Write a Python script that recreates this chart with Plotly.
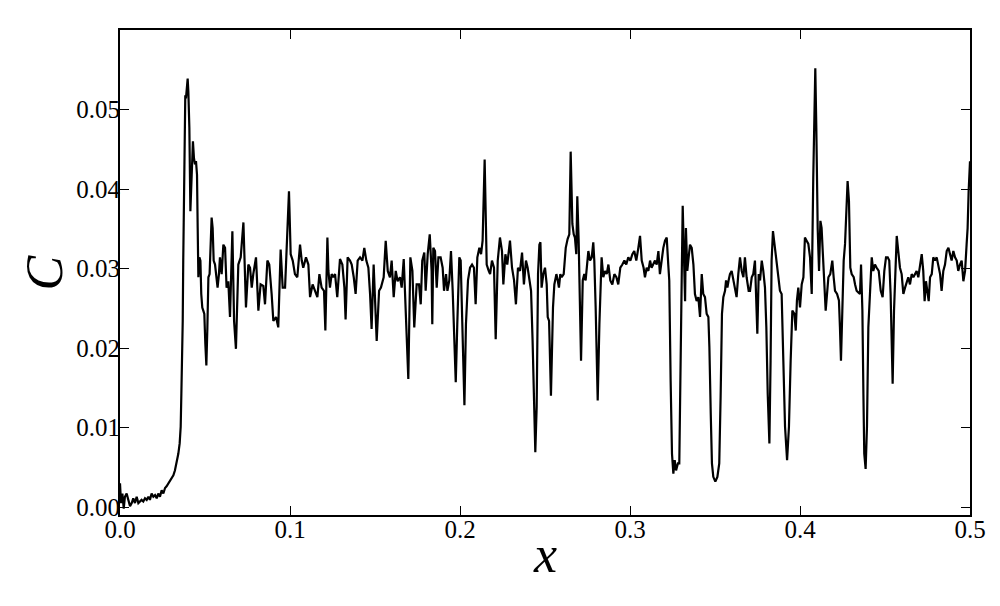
import plotly.graph_objects as go

# Concentration profile C(x)
x_pos = [
    0.0000, 0.0006, 0.0014, 0.0022, 0.0029, 0.0039, 0.0049, 0.0059, 0.0069, 0.0078,
    0.0088, 0.0098, 0.0108, 0.0118, 0.0127, 0.0137, 0.0147, 0.0157, 0.0167, 0.0176,
    0.0186, 0.0196, 0.0206, 0.0216, 0.0225, 0.0235, 0.0245, 0.0255, 0.0265, 0.0274,
    0.0284, 0.0294, 0.0304, 0.0314, 0.0323, 0.0333, 0.0343, 0.0351, 0.0357, 0.0361,
    0.0365, 0.0369, 0.0372, 0.0376, 0.0380, 0.0384, 0.0388, 0.0392, 0.0398, 0.0402,
    0.0408, 0.0414, 0.0420, 0.0425, 0.0429, 0.0435, 0.0441, 0.0447, 0.0453, 0.0457,
    0.0461, 0.0467, 0.0473, 0.0478, 0.0484, 0.0490, 0.0496, 0.0502, 0.0508, 0.0514,
    0.0520, 0.0527, 0.0533, 0.0539, 0.0545, 0.0551, 0.0559, 0.0567, 0.0574, 0.0582,
    0.0588, 0.0598, 0.0608, 0.0618, 0.0627, 0.0637, 0.0647, 0.0661, 0.0671, 0.0682,
    0.0696, 0.0710, 0.0726, 0.0741, 0.0755, 0.0765, 0.0775, 0.0784, 0.0800, 0.0814,
    0.0827, 0.0843, 0.0853, 0.0867, 0.0878, 0.0892, 0.0902, 0.0918, 0.0931, 0.0945,
    0.0957, 0.0971, 0.0984, 0.0994, 0.1004, 0.1016, 0.1029, 0.1043, 0.1059, 0.1069,
    0.1078, 0.1094, 0.1108, 0.1118, 0.1133, 0.1147, 0.1161, 0.1173, 0.1186, 0.1200,
    0.1208, 0.1220, 0.1226, 0.1235, 0.1245, 0.1255, 0.1265, 0.1278, 0.1294, 0.1308,
    0.1320, 0.1327, 0.1339, 0.1353, 0.1363, 0.1375, 0.1386, 0.1398, 0.1412, 0.1426,
    0.1437, 0.1449, 0.1461, 0.1471, 0.1480, 0.1492, 0.1500, 0.1510, 0.1524, 0.1535,
    0.1551, 0.1563, 0.1575, 0.1588, 0.1598, 0.1610, 0.1622, 0.1633, 0.1647, 0.1657,
    0.1669, 0.1680, 0.1696, 0.1708, 0.1720, 0.1731, 0.1745, 0.1759, 0.1769, 0.1778,
    0.1790, 0.1798, 0.1810, 0.1822, 0.1833, 0.1837, 0.1843, 0.1853, 0.1863, 0.1873,
    0.1886, 0.1898, 0.1906, 0.1918, 0.1926, 0.1937, 0.1947, 0.1957, 0.1965, 0.1975,
    0.1984, 0.1996, 0.2004, 0.2014, 0.2026, 0.2035, 0.2047, 0.2059, 0.2071, 0.2082,
    0.2092, 0.2102, 0.2114, 0.2124, 0.2133, 0.2145, 0.2157, 0.2169, 0.2177, 0.2188,
    0.2200, 0.2210, 0.2222, 0.2235, 0.2247, 0.2255, 0.2267, 0.2278, 0.2286, 0.2294,
    0.2306, 0.2318, 0.2329, 0.2341, 0.2353, 0.2365, 0.2376, 0.2388, 0.2398, 0.2408,
    0.2418, 0.2427, 0.2437, 0.2443, 0.2451, 0.2459, 0.2467, 0.2473, 0.2480, 0.2490,
    0.2500, 0.2510, 0.2516, 0.2524, 0.2535, 0.2547, 0.2555, 0.2567, 0.2575, 0.2582,
    0.2590, 0.2598, 0.2610, 0.2622, 0.2633, 0.2643, 0.2651, 0.2661, 0.2669, 0.2676,
    0.2684, 0.2690, 0.2698, 0.2706, 0.2712, 0.2722, 0.2731, 0.2739, 0.2747, 0.2755,
    0.2765, 0.2775, 0.2784, 0.2790, 0.2798, 0.2804, 0.2810, 0.2820, 0.2827, 0.2833,
    0.2843, 0.2853, 0.2863, 0.2873, 0.2884, 0.2896, 0.2908, 0.2920, 0.2931, 0.2943,
    0.2955, 0.2967, 0.2978, 0.2990, 0.3002, 0.3014, 0.3025, 0.3037, 0.3049, 0.3059,
    0.3069, 0.3080, 0.3088, 0.3098, 0.3108, 0.3118, 0.3127, 0.3137, 0.3147, 0.3157,
    0.3167, 0.3176, 0.3186, 0.3196, 0.3206, 0.3216, 0.3225, 0.3231, 0.3239, 0.3247,
    0.3255, 0.3263, 0.3271, 0.3282, 0.3290, 0.3298, 0.3304, 0.3310, 0.3318, 0.3324,
    0.3329, 0.3337, 0.3345, 0.3353, 0.3363, 0.3373, 0.3382, 0.3392, 0.3402, 0.3412,
    0.3422, 0.3431, 0.3441, 0.3451, 0.3461, 0.3467, 0.3475, 0.3482, 0.3490, 0.3502,
    0.3514, 0.3525, 0.3533, 0.3541, 0.3549, 0.3559, 0.3565, 0.3573, 0.3580, 0.3588,
    0.3598, 0.3608, 0.3618, 0.3627, 0.3637, 0.3647, 0.3657, 0.3667, 0.3676, 0.3686,
    0.3698, 0.3706, 0.3716, 0.3725, 0.3735, 0.3741, 0.3749, 0.3757, 0.3765, 0.3775,
    0.3784, 0.3794, 0.3802, 0.3810, 0.3820, 0.3827, 0.3833, 0.3841, 0.3853, 0.3863,
    0.3873, 0.3882, 0.3892, 0.3902, 0.3912, 0.3924, 0.3935, 0.3945, 0.3955, 0.3967,
    0.3975, 0.3982, 0.3990, 0.4000, 0.4010, 0.4020, 0.4029, 0.4039, 0.4049, 0.4059,
    0.4069, 0.4078, 0.4086, 0.4090, 0.4096, 0.4104, 0.4112, 0.4120, 0.4127, 0.4135,
    0.4143, 0.4151, 0.4159, 0.4167, 0.4178, 0.4190, 0.4198, 0.4206, 0.4218, 0.4229,
    0.4235, 0.4241, 0.4249, 0.4257, 0.4265, 0.4273, 0.4280, 0.4288, 0.4296, 0.4304,
    0.4316, 0.4324, 0.4333, 0.4343, 0.4353, 0.4359, 0.4367, 0.4373, 0.4378, 0.4386,
    0.4394, 0.4402, 0.4412, 0.4422, 0.4431, 0.4441, 0.4451, 0.4463, 0.4475, 0.4486,
    0.4496, 0.4506, 0.4516, 0.4525, 0.4533, 0.4539, 0.4545, 0.4553, 0.4561, 0.4569,
    0.4578, 0.4588, 0.4598, 0.4608, 0.4618, 0.4627, 0.4637, 0.4647, 0.4657, 0.4667,
    0.4676, 0.4686, 0.4696, 0.4706, 0.4716, 0.4725, 0.4733, 0.4741, 0.4749, 0.4757,
    0.4765, 0.4775, 0.4784, 0.4794, 0.4804, 0.4814, 0.4824, 0.4833, 0.4843, 0.4853,
    0.4863, 0.4873, 0.4882, 0.4892, 0.4902, 0.4912, 0.4922, 0.4931, 0.4941, 0.4951,
    0.4961, 0.4971, 0.4980, 0.4986, 0.4992, 0.5000,
]
conc = [
    0.0030, 0.0005, 0.0017, -0.0002, 0.0013, 0.0017, 0.0009, 0.0001, 0.0005, 0.0011,
    0.0005, 0.0013, 0.0005, 0.0007, 0.0009, 0.0007, 0.0011, 0.0009, 0.0013, 0.0009,
    0.0017, 0.0013, 0.0015, 0.0011, 0.0017, 0.0013, 0.0021, 0.0017, 0.0024, 0.0026,
    0.0030, 0.0032, 0.0036, 0.0040, 0.0046, 0.0055, 0.0067, 0.0080, 0.0101, 0.0143,
    0.0184, 0.0234, 0.0310, 0.0393, 0.0477, 0.0518, 0.0514, 0.0531, 0.0539, 0.0523,
    0.0477, 0.0372, 0.0414, 0.0443, 0.0460, 0.0439, 0.0431, 0.0435, 0.0418, 0.0351,
    0.0289, 0.0314, 0.0310, 0.0268, 0.0251, 0.0247, 0.0243, 0.0205, 0.0178, 0.0226,
    0.0289, 0.0293, 0.0339, 0.0364, 0.0351, 0.0310, 0.0305, 0.0293, 0.0276, 0.0293,
    0.0314, 0.0293, 0.0330, 0.0326, 0.0276, 0.0284, 0.0239, 0.0347, 0.0234, 0.0199,
    0.0305, 0.0314, 0.0358, 0.0251, 0.0305, 0.0301, 0.0276, 0.0293, 0.0314, 0.0247,
    0.0280, 0.0278, 0.0255, 0.0310, 0.0305, 0.0268, 0.0234, 0.0239, 0.0226, 0.0324,
    0.0276, 0.0276, 0.0351, 0.0397, 0.0318, 0.0310, 0.0293, 0.0289, 0.0330, 0.0310,
    0.0301, 0.0314, 0.0305, 0.0264, 0.0280, 0.0272, 0.0264, 0.0293, 0.0276, 0.0272,
    0.0222, 0.0339, 0.0297, 0.0276, 0.0293, 0.0289, 0.0293, 0.0264, 0.0312, 0.0305,
    0.0276, 0.0236, 0.0314, 0.0310, 0.0305, 0.0289, 0.0268, 0.0310, 0.0314, 0.0310,
    0.0326, 0.0310, 0.0301, 0.0268, 0.0224, 0.0305, 0.0255, 0.0209, 0.0272, 0.0276,
    0.0289, 0.0335, 0.0297, 0.0289, 0.0310, 0.0264, 0.0297, 0.0284, 0.0289, 0.0276,
    0.0312, 0.0259, 0.0161, 0.0314, 0.0297, 0.0226, 0.0280, 0.0280, 0.0255, 0.0310,
    0.0320, 0.0272, 0.0318, 0.0343, 0.0297, 0.0230, 0.0326, 0.0322, 0.0276, 0.0314,
    0.0314, 0.0301, 0.0272, 0.0293, 0.0272, 0.0285, 0.0322, 0.0272, 0.0209, 0.0157,
    0.0230, 0.0314, 0.0310, 0.0230, 0.0128, 0.0230, 0.0285, 0.0301, 0.0305, 0.0301,
    0.0255, 0.0314, 0.0326, 0.0318, 0.0335, 0.0437, 0.0305, 0.0297, 0.0293, 0.0310,
    0.0301, 0.0211, 0.0310, 0.0339, 0.0322, 0.0280, 0.0318, 0.0305, 0.0318, 0.0335,
    0.0301, 0.0285, 0.0255, 0.0301, 0.0297, 0.0320, 0.0280, 0.0310, 0.0301, 0.0285,
    0.0272, 0.0209, 0.0097, 0.0069, 0.0126, 0.0293, 0.0330, 0.0333, 0.0276, 0.0293,
    0.0301, 0.0280, 0.0239, 0.0234, 0.0140, 0.0251, 0.0280, 0.0293, 0.0285, 0.0276,
    0.0293, 0.0289, 0.0293, 0.0326, 0.0337, 0.0343, 0.0447, 0.0356, 0.0343, 0.0339,
    0.0318, 0.0391, 0.0335, 0.0243, 0.0184, 0.0285, 0.0293, 0.0285, 0.0301, 0.0322,
    0.0310, 0.0314, 0.0333, 0.0310, 0.0251, 0.0188, 0.0134, 0.0230, 0.0272, 0.0314,
    0.0289, 0.0297, 0.0293, 0.0305, 0.0285, 0.0280, 0.0293, 0.0289, 0.0280, 0.0301,
    0.0305, 0.0310, 0.0305, 0.0314, 0.0310, 0.0318, 0.0322, 0.0310, 0.0326, 0.0341,
    0.0310, 0.0301, 0.0289, 0.0301, 0.0297, 0.0310, 0.0301, 0.0305, 0.0310, 0.0305,
    0.0322, 0.0293, 0.0310, 0.0326, 0.0335, 0.0339, 0.0305, 0.0285, 0.0159, 0.0067,
    0.0042, 0.0059, 0.0046, 0.0055, 0.0055, 0.0159, 0.0285, 0.0379, 0.0305, 0.0259,
    0.0351, 0.0297, 0.0314, 0.0330, 0.0326, 0.0305, 0.0268, 0.0259, 0.0264, 0.0239,
    0.0293, 0.0268, 0.0264, 0.0243, 0.0239, 0.0201, 0.0117, 0.0055, 0.0038, 0.0032,
    0.0038, 0.0055, 0.0138, 0.0243, 0.0264, 0.0272, 0.0285, 0.0276, 0.0285, 0.0293,
    0.0297, 0.0285, 0.0276, 0.0264, 0.0293, 0.0314, 0.0297, 0.0289, 0.0314, 0.0289,
    0.0272, 0.0272, 0.0289, 0.0293, 0.0310, 0.0268, 0.0218, 0.0293, 0.0285, 0.0310,
    0.0297, 0.0276, 0.0226, 0.0143, 0.0080, 0.0184, 0.0310, 0.0347, 0.0322, 0.0301,
    0.0289, 0.0272, 0.0268, 0.0184, 0.0101, 0.0059, 0.0101, 0.0184, 0.0247, 0.0243,
    0.0222, 0.0260, 0.0276, 0.0251, 0.0280, 0.0289, 0.0339, 0.0335, 0.0331, 0.0314,
    0.0268, 0.0414, 0.0518, 0.0552, 0.0477, 0.0351, 0.0297, 0.0360, 0.0351, 0.0310,
    0.0268, 0.0247, 0.0268, 0.0289, 0.0293, 0.0310, 0.0289, 0.0272, 0.0268, 0.0260,
    0.0226, 0.0184, 0.0247, 0.0310, 0.0331, 0.0385, 0.0410, 0.0385, 0.0301, 0.0293,
    0.0289, 0.0280, 0.0272, 0.0270, 0.0268, 0.0305, 0.0247, 0.0142, 0.0067, 0.0048,
    0.0101, 0.0226, 0.0276, 0.0314, 0.0297, 0.0305, 0.0301, 0.0297, 0.0272, 0.0264,
    0.0297, 0.0314, 0.0314, 0.0310, 0.0268, 0.0205, 0.0155, 0.0247, 0.0310, 0.0341,
    0.0322, 0.0301, 0.0293, 0.0268, 0.0276, 0.0284, 0.0289, 0.0280, 0.0293, 0.0289,
    0.0293, 0.0297, 0.0289, 0.0301, 0.0318, 0.0297, 0.0259, 0.0284, 0.0268, 0.0259,
    0.0289, 0.0293, 0.0314, 0.0310, 0.0314, 0.0301, 0.0293, 0.0272, 0.0297, 0.0305,
    0.0322, 0.0326, 0.0318, 0.0310, 0.0322, 0.0314, 0.0310, 0.0297, 0.0305, 0.0310,
    0.0284, 0.0297, 0.0330, 0.0351, 0.0397, 0.0435,
]

x_ticks = [0.0, 0.1, 0.2, 0.3, 0.4, 0.5]
x_tick_text = ["0.0", "0.1", "0.2", "0.3", "0.4", "0.5"]
y_ticks = [0.00, 0.01, 0.02, 0.03, 0.04, 0.05]
y_tick_text = ["0.00", "0.01", "0.02", "0.03", "0.04", "0.05"]

SERIF = "Liberation Serif, Times New Roman, serif"

fig = go.Figure()

fig.add_trace(go.Scatter(
    x=x_pos, y=conc,
    mode="lines",
    line=dict(color="black", width=2.2),
    showlegend=False,
    hoverinfo="skip",
))

axis_style = dict(
    showline=True, linecolor="black", linewidth=2, mirror="ticks",
    ticks="inside", ticklen=9, tickwidth=1, tickcolor="black",
    showgrid=False, zeroline=False,
    tickfont=dict(family=SERIF, size=25, color="black"),
)

# page body adds an 8px margin, so the figure is drawn 8px smaller
fig.update_layout(
    width=992, height=598,
    paper_bgcolor="white", plot_bgcolor="white",
    margin=dict(l=112, r=30, t=22, b=91),
    xaxis=dict(range=[0, 0.5], tickvals=x_ticks, ticktext=x_tick_text,
               ticklabelstandoff=-9, **axis_style),
    yaxis=dict(range=[-0.001, 0.06], tickvals=y_ticks, ticktext=y_tick_text,
               ticklabelstandoff=-7, **axis_style),
    showlegend=False,
)

fig.add_annotation(
    text="<i>C</i>", xref="paper", yref="paper", x=0, y=0.5,
    xanchor="center", yanchor="middle", xshift=-76, textangle=-90,
    showarrow=False, font=dict(family=SERIF, size=52, color="black"),
)
fig.add_annotation(
    text="<i>x</i>", xref="paper", yref="paper", x=0.5, y=0,
    xanchor="center", yanchor="middle", yshift=-39,
    showarrow=False, font=dict(family=SERIF, size=52, color="black"),
)

fig.write_html("out.html")
